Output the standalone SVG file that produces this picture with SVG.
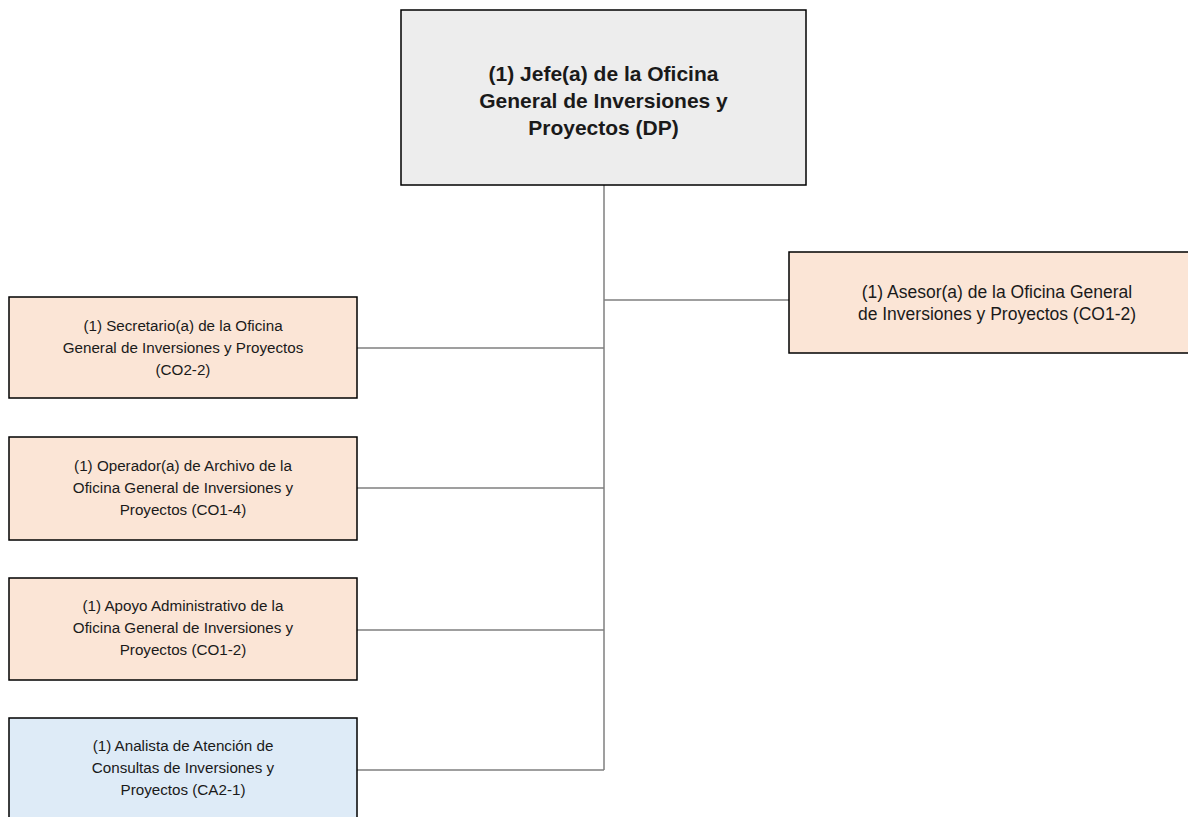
<svg xmlns="http://www.w3.org/2000/svg" width="1188" height="817" viewBox="0 0 1188 817">
<style>
.box{stroke:#000;stroke-width:1.5}
.g{fill:#ededed}
.p{fill:#fbe5d6}
.b{fill:#deebf7}
.t{font-family:"Liberation Sans",Arial,sans-serif;font-size:15.2px;fill:#1a1a1a;text-anchor:middle}
.ta{font-family:"Liberation Sans",Arial,sans-serif;font-size:17.5px;fill:#1a1a1a;text-anchor:middle}
.tb{font-family:"Liberation Sans",Arial,sans-serif;font-size:21px;font-weight:bold;fill:#1a1a1a;text-anchor:middle}
.c{stroke:#7f7f7f;stroke-width:1.5;fill:none}
</style>
<rect width="1188" height="817" fill="#fff"/>
<g id="connectors">
<path class="c" d="M604 185V770"/>
<path class="c" d="M604 300H789"/>
<path class="c" d="M357 348H604"/>
<path class="c" d="M357 488H604"/>
<path class="c" d="M357 630H604"/>
<path class="c" d="M357 770H604"/>
</g>
<g id="jefe">
<rect class="box g" x="401" y="10" width="405" height="175"/>
<text class="tb" x="603.5" y="81">(1) Jefe(a) de la Oficina</text>
<text class="tb" x="603.5" y="108">General de Inversiones y</text>
<text class="tb" x="603.5" y="135">Proyectos (DP)</text>
</g>
<g id="asesor">
<rect class="box p" x="789" y="252" width="414" height="101"/>
<text class="ta" x="997" y="298">(1) Asesor(a) de la Oficina General</text>
<text class="ta" x="997" y="320">de Inversiones y Proyectos (CO1-2)</text>
</g>
<g id="secretario">
<rect class="box p" x="9" y="297" width="348" height="101"/>
<text class="t" x="183" y="331">(1) Secretario(a) de la Oficina</text>
<text class="t" x="183" y="353">General de Inversiones y Proyectos</text>
<text class="t" x="183" y="375">(CO2-2)</text>
</g>
<g id="operador">
<rect class="box p" x="9" y="437" width="348" height="103"/>
<text class="t" x="183" y="471">(1) Operador(a) de Archivo de la</text>
<text class="t" x="183" y="493">Oficina General de Inversiones y</text>
<text class="t" x="183" y="515">Proyectos (CO1-4)</text>
</g>
<g id="apoyo">
<rect class="box p" x="9" y="578" width="348" height="102"/>
<text class="t" x="183" y="611">(1) Apoyo Administrativo de la</text>
<text class="t" x="183" y="633">Oficina General de Inversiones y</text>
<text class="t" x="183" y="655">Proyectos (CO1-2)</text>
</g>
<g id="analista">
<rect class="box b" x="9" y="718" width="348" height="110"/>
<text class="t" x="183" y="751">(1) Analista de Atención de</text>
<text class="t" x="183" y="773">Consultas de Inversiones y</text>
<text class="t" x="183" y="795">Proyectos (CA2-1)</text>
</g>
</svg>
